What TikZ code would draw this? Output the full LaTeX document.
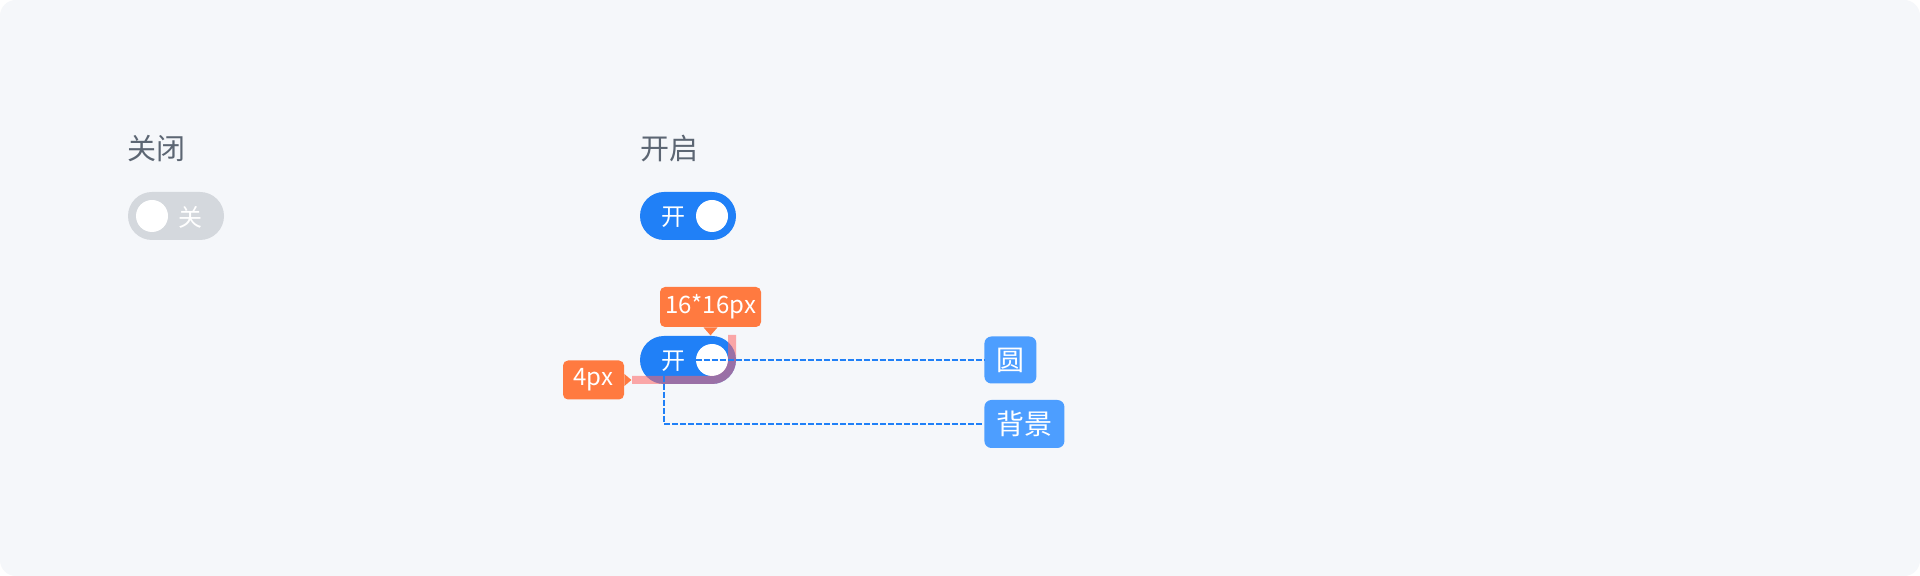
\documentclass[tikz,border=0pt]{standalone}
\usepackage{fontspec}
\setmainfont{Noto Sans CJK SC}
\definecolor{panel}{RGB}{245,247,250}
\definecolor{lblgray}{RGB}{92,102,115}
\definecolor{offgray}{RGB}{212,216,221}
\definecolor{onblue}{RGB}{32,128,247}
\definecolor{tagorange}{RGB}{255,122,64}
\definecolor{tagblue}{RGB}{77,158,255}
\definecolor{pinkmark}{RGB}{255,100,100}
\tikzset{
  lbl/.style={inner sep=0pt, text=lblgray, font=\fontsize{14.5pt}{16pt}\selectfont},
  switchbody/.style={draw=none, inner sep=0pt, minimum width=48pt, minimum height=24pt, rounded corners=11.99pt},
  knob/.style={circle, fill=white, inner sep=0pt, minimum size=16pt},
  swtext/.style={inner sep=0pt, text=white, font=\fontsize{12pt}{14pt}\selectfont},
  orangetag/.style={fill=tagorange, text=white, inner sep=0pt, rounded corners=2.5pt, font=\fontsize{12pt}{14pt}\selectfont},
  bluetag/.style={fill=tagblue, text=white, inner sep=0pt, rounded corners=3.5pt, font=\fontsize{14pt}{16pt}\selectfont},
  dashln/.style={draw=onblue, line width=1pt, dash pattern=on 3pt off 1pt},
  pinkln/.style={draw=pinkmark, line width=4pt, opacity=0.55, rounded corners=10pt}
}
\begin{document}
\begin{tikzpicture}[x=0.5pt,y=-0.5pt]
\useasboundingbox (0,0) rectangle (1920,576);
\fill[white] (0,0) rectangle (1920,576);
\fill[panel, rounded corners=8pt] (0,0) rectangle (1920,576);

% labels
\node[lbl, anchor=west] (l1) at (127,149) {关闭};
\node[lbl, anchor=west] (l2) at (640,149) {开启};

% off switch
\node[switchbody, fill=offgray] (s1) at (176,216) {};
\node[knob] (k1) at (152,216) {};
\node[swtext] (t1) at (190,217) {关};

% on switch
\node[switchbody, fill=onblue] (s2) at (688,216) {};
\node[knob] (k2) at (712,216) {};
\node[swtext] (t2) at (673,217) {开};

% annotated switch
\node[switchbody, fill=onblue] (s3) at (688,360) {};
\node[knob] (k3) at (712,360) {};
\node[swtext] (t3) at (673,361) {开};

% pink spacing mark
\coordinate (p0) at (632,380);
\coordinate (p1) at (732,380);
\coordinate (p2) at (732,335);
\draw[pinkln] (p0) -- (p1) -- (p2);

% tags
\node[bluetag, minimum width=26pt, minimum height=23.5pt, anchor=west] (b1) at (984,360) {圆};
\node[bluetag, minimum width=40pt, minimum height=24pt, anchor=west] (b2) at (984,424) {背景};

% dashed leaders
\coordinate (c1) at (664,376);
\draw[dashln] (k3.west) -- (b1.west);
\draw[dashln] (c1) |- (b2.west);

% orange callouts
\node[orangetag, minimum width=50.5pt, minimum height=20pt] (o1) at (710.5,307) {16*16px};
\fill[tagorange] ([xshift=-3.5pt]o1.south) -- ([xshift=3.5pt]o1.south) -- ([yshift=-4pt]o1.south) -- cycle;
\node[orangetag, minimum width=30.5pt, minimum height=19.5pt] (o2) at (593.5,380) {4px};
\fill[tagorange] ([yshift=3pt]o2.east) -- ([yshift=-3pt]o2.east) -- ([xshift=3.5pt]o2.east) -- cycle;
\end{tikzpicture}
\end{document}
